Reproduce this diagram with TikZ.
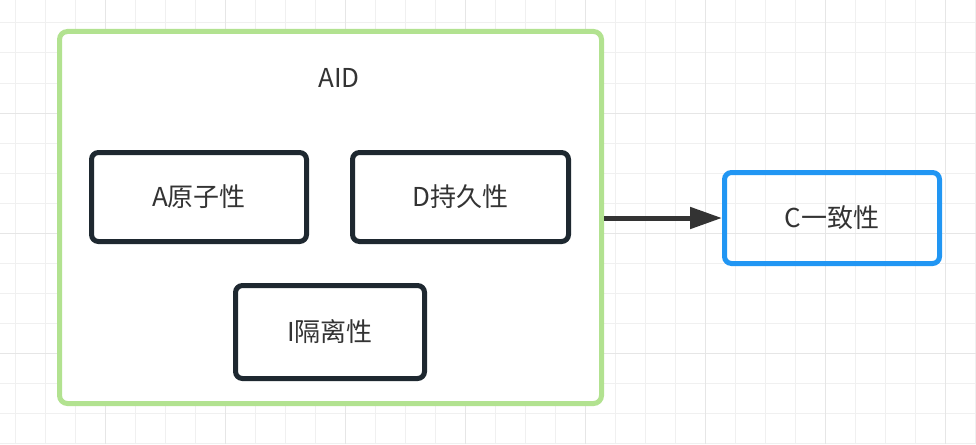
\documentclass[tikz,border=0pt]{standalone}
\usepackage{fontspec}
\setmainfont{Noto Sans CJK SC}
\usetikzlibrary{positioning, arrows.meta}
\definecolor{gridminor}{RGB}{240,240,240}
\definecolor{gridmajor}{RGB}{230,230,230}
\definecolor{framegreen}{RGB}{178,226,144}
\definecolor{boxdark}{RGB}{30,40,48}
\definecolor{boxblue}{RGB}{33,150,243}
\definecolor{textgray}{RGB}{51,51,51}
\tikzset{
  group/.style={
    rectangle,
    rounded corners=8pt,
    draw=framegreen, line width=5pt,
    minimum width=542pt,
    minimum height=372pt
  },
  prop/.style={
    rectangle,
    rounded corners=7pt,
    draw=boxdark, line width=5pt,
    minimum height=89pt,
    text=textgray,
    text centered
  },
  target/.style={
    prop,
    draw=boxblue
  },
  arrow/.style={
    draw=textgray,
    line width=5pt,
    -{Triangle[length=32pt,width=21pt]}
  }
}

\begin{document}
\begin{tikzpicture}[x=1pt, y=-1pt, font=\fontsize{26}{31}\selectfont]
\useasboundingbox (0,0) rectangle (976,444);
% grid
\foreach \x in {15,45,...,975} \draw[gridminor, line width=1pt] (\x,0) -- (\x,444);
\foreach \y in {23,53,...,443} \draw[gridminor, line width=1pt] (0,\y) -- (976,\y);
\foreach \x in {105,225,...,975} \draw[gridmajor, line width=1pt] (\x,0) -- (\x,444);
\foreach \y in {113,233,...,443} \draw[gridmajor, line width=1pt] (0,\y) -- (976,\y);

% nodes
\node[group, fill=white] (aid) at (330.5,217.5) {};
\node[text=textgray] (aidlabel) at (339,78) {AID};

\node[prop, minimum width=215pt] (atom) at (199,197) {A原子性};
\node[prop, minimum width=216pt, right = 41pt of atom] (dur) {D持久性};
\node[prop, minimum width=189pt, minimum height=93pt] (iso) at (330,332) {I隔离性};

\node[target, minimum width=215pt, minimum height=91pt] (cons) at (832,218) {C一致性};

% edges
\draw [arrow] (aid.east |- cons.west) -- (cons.west);

\end{tikzpicture}
\end{document}
